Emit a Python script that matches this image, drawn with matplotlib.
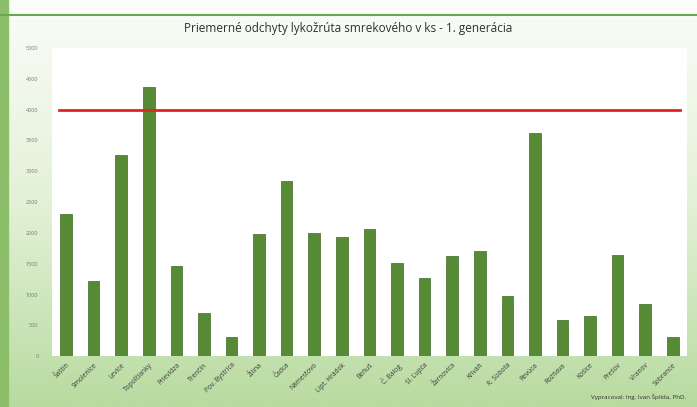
import matplotlib
matplotlib.use('Agg')
import matplotlib.pyplot as plt
import numpy as np
from matplotlib.colors import LinearSegmentedColormap

# odštepné závody
zavody = ['Šaštín', 'Smolenice', 'Levice', 'Topoľčianky', 'Prievidza', 'Trenčín',
          'Pov. Bystrica', 'Žilina', 'Čadca', 'Námestovo', 'Lipt. Hrádok', 'Beňuš',
          'Č. Balog', 'Sl. Ľupča', 'Žarnovica', 'Kriváň', 'R. Sobota', 'Revúca',
          'Rožňava', 'Košice', 'Prešov', 'Vranov', 'Sobrance']
# priemerné odchyty (ks)
odchyty = [2310, 1220, 3270, 4370, 1460, 700, 310, 1990, 2840, 2000, 1940, 2070,
           1510, 1260, 1630, 1710, 975, 3620, 590, 650, 1640, 845, 310]
hranica = 4000
y_ticks = list(range(0, 5001, 500))

plt.rcParams['font.family'] = ['Open Sans', 'DejaVu Sans']

fig = plt.figure(figsize=(6.97, 4.07), dpi=100)

# pozadie - zelený gradient
bg = fig.add_axes([0, 0, 1, 1])
grad = np.linspace(0, 1, 256).reshape(-1, 1)
cmap = LinearSegmentedColormap.from_list('bg', ['#fbfdf9', '#e3f1d7', '#b8dba0'])
bg.imshow(grad, aspect='auto', cmap=cmap, extent=[0, 1, 0, 1], origin='upper')
bg.add_patch(plt.Rectangle((0, 0), 0.012, 1, color='#8dbf6a', transform=bg.transAxes))
bg.axhline(0.963, color='#6aa84f', lw=1.5)
bg.set_xlim(0, 1)
bg.set_ylim(0, 1)
bg.axis('off')

ax = fig.add_axes([0.075, 0.125, 0.91, 0.757])
x = np.arange(len(zavody))
ax.bar(x, odchyty, width=0.42, color='#568a34', edgecolor='#3f6b25', linewidth=0.5, zorder=2)
ax.axhline(hranica, xmin=0.01, xmax=0.99, color='#e8231f', lw=2, zorder=3)

ax.set_xlim(-0.5, len(zavody) - 0.5)
ax.set_ylim(0, 5000)
ax.set_yticks(y_ticks)
ax.set_yticklabels([str(v) for v in y_ticks], fontsize=4, color='#7a7a7a')
ax.set_xticks(x)
ax.set_xticklabels(zavody, rotation=45, ha='right', fontsize=4.8, color='#3a3a3a',
                   rotation_mode='anchor')
ax.tick_params(axis='both', length=0, pad=4)
ax.set_facecolor('white')
for s in ax.spines.values():
    s.set_visible(False)
ax.tick_params(axis='y', pad=10)

fig.text(0.5, 0.93, 'Priemerné odchyty lykožrúta smrekového v ks - 1. generácia',
         ha='center', va='center', fontsize=8.5, color='#303030')
fig.text(0.985, 0.025, 'Vypracoval: Ing. Ivan Špilda, PhD.', ha='right', va='center',
         fontsize=4.5, color='#303030')

fig.savefig('out.png', dpi=100)
